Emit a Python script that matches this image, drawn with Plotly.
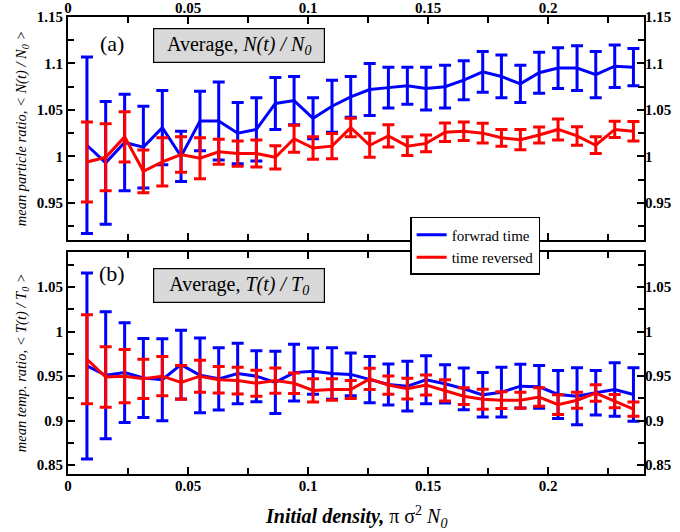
import plotly.graph_objects as go

# Initial density values (pi * sigma^2 * N0)
density = [0.0079, 0.0157, 0.0236, 0.0314, 0.0393, 0.0471, 0.0550, 0.0628, 0.0707, 0.0785,
           0.0864, 0.0942, 0.1021, 0.1100, 0.1178, 0.1257, 0.1335, 0.1414, 0.1492, 0.1571,
           0.1649, 0.1728, 0.1806, 0.1885, 0.1963, 0.2042, 0.2121, 0.2199, 0.2278, 0.2356]

# Panel (a): mean particle ratio N(t)/N0
n_forward = [1.012, 0.993, 1.015, 1.010, 1.031, 1.000, 1.038, 1.038, 1.025, 1.029,
             1.057, 1.060, 1.041, 1.054, 1.064, 1.072, 1.074, 1.076, 1.073, 1.075,
             1.082, 1.091, 1.086, 1.078, 1.090, 1.095, 1.095, 1.088, 1.097, 1.096]
n_forward_err = [0.095, 0.066, 0.052, 0.044, 0.040, 0.027, 0.032, 0.042, 0.033, 0.034,
                 0.028, 0.026, 0.022, 0.028, 0.022, 0.028, 0.022, 0.020, 0.023, 0.023,
                 0.021, 0.022, 0.023, 0.020, 0.022, 0.022, 0.024, 0.025, 0.023, 0.020]
n_reversed = [0.994, 0.999, 1.021, 0.984, 0.994, 1.002, 0.998, 1.005, 1.003, 1.003,
              0.999, 1.019, 1.009, 1.011, 1.031, 1.012, 1.022, 1.011, 1.014, 1.026,
              1.027, 1.025, 1.020, 1.018, 1.023, 1.029, 1.022, 1.012, 1.029, 1.027]
n_reversed_err = [0.043, 0.036, 0.027, 0.023, 0.026, 0.019, 0.022, 0.0135, 0.0135, 0.0145,
                  0.0125, 0.0145, 0.012, 0.0135, 0.010, 0.013, 0.012, 0.010, 0.009, 0.010,
                  0.010, 0.0107, 0.009, 0.0108, 0.0087, 0.0113, 0.010, 0.009, 0.0087, 0.0105]

# Panel (b): mean temperature ratio T(t)/T0
t_forward = [0.9615, 0.951, 0.954, 0.948, 0.946, 0.963, 0.951, 0.947, 0.953, 0.950,
             0.943, 0.954, 0.9556, 0.953, 0.952, 0.946, 0.9406, 0.9388, 0.946, 0.9414,
             0.9358, 0.929, 0.932, 0.9388, 0.938, 0.9294, 0.9275, 0.9313, 0.935, 0.9294]
t_forward_err = [0.1045, 0.0715, 0.056, 0.0445, 0.046, 0.0386, 0.042, 0.035, 0.034, 0.0287,
                 0.035, 0.032, 0.026, 0.029, 0.024, 0.026, 0.023, 0.028, 0.027, 0.0215,
                 0.0235, 0.025, 0.028, 0.0245, 0.024, 0.027, 0.032, 0.025, 0.030, 0.030]
t_reversed = [0.969, 0.949, 0.950, 0.947, 0.950, 0.943, 0.950, 0.946, 0.945, 0.942,
              0.945, 0.942, 0.934, 0.935, 0.935, 0.947, 0.940, 0.936, 0.940, 0.934,
              0.9275, 0.924, 0.923, 0.923, 0.9266, 0.918, 0.923, 0.931, 0.922, 0.913]
t_reversed_err = [0.050, 0.034, 0.030, 0.022, 0.022, 0.019, 0.018, 0.015, 0.015, 0.0146,
                  0.0143, 0.0116, 0.013, 0.012, 0.010, 0.012, 0.0103, 0.0118, 0.0113, 0.012,
                  0.0094, 0.0113, 0.0094, 0.009, 0.0103, 0.0112, 0.009, 0.0093, 0.0075, 0.008]

x_ticks = [0, 0.05, 0.1, 0.15, 0.2]
x_ticktext = ["0", "0.05", "0.1", "0.15", "0.2"]
ya_ticks = [0.95, 1.0, 1.05, 1.1, 1.15]
ya_ticktext = ["0.95", "1", "1.05", "1.1", "1.15"]
yb_ticks = [0.85, 0.9, 0.95, 1.0, 1.05]
yb_ticktext = ["0.85", "0.9", "0.95", "1", "1.05"]

BLUE = "#0000ff"
RED = "#ff0000"
SERIF = "Liberation Serif, Times New Roman, serif"

fig = go.Figure()


def add_series(y, err, color, name, xa, ya, show):
    fig.add_trace(go.Scatter(
        x=density, y=y, mode="lines", name=name, showlegend=show,
        line=dict(color=color, width=3),
        error_y=dict(type="data", array=err, color=color, thickness=3, width=6),
        xaxis=xa, yaxis=ya,
    ))


# forward series on the left-labelled axes, reversed series on the
# right-labelled overlay axes (ranges matched) so both sides get labels
add_series(n_forward, n_forward_err, BLUE, "forwrad time", "x", "y", True)
add_series(n_reversed, n_reversed_err, RED, "time reversed", "x", "y3", True)
add_series(t_forward, t_forward_err, BLUE, "forwrad time", "x2", "y2", False)
add_series(t_reversed, t_reversed_err, RED, "time reversed", "x2", "y4", False)

tick_font = dict(family=SERIF, size=15, color="black", weight="bold")
title_font = dict(family=SERIF, size=14.5, color="black")
minor_common = dict(ticks="inside", ticklen=6, tickwidth=1.5, tickcolor="black")

axis_common = dict(
    showline=True, linewidth=2, linecolor="black", mirror="ticks",
    ticks="inside", ticklen=7, tickwidth=1.5, tickcolor="black",
    showgrid=False, zeroline=False, tickfont=tick_font, automargin=False,
)
overlay_common = dict(
    ticks="", showline=False, showgrid=False, zeroline=False,
    tickfont=tick_font, automargin=False,
)

top_dom = [0.512, 1.0]
bot_dom = [0.0, 0.4865]

fig.update_layout(
    width=680, height=532,
    margin=dict(l=68, r=36, t=17, b=58, autoexpand=False),
    plot_bgcolor="white", paper_bgcolor="white",
    font=dict(family=SERIF, color="black"),
    xaxis=dict(domain=[0, 1], range=[0, 0.24], anchor="y", side="top",
               tickvals=x_ticks, ticktext=x_ticktext, ticklabelstandoff=-4,
               minor=dict(dtick=0.025, tick0=0, **minor_common), **axis_common),
    yaxis=dict(domain=top_dom, range=[0.91, 1.15], anchor="x",
               tickvals=ya_ticks, ticktext=ya_ticktext,
               title=dict(text="<i>mean particle ratio, &lt; N(t) / N<sub>0</sub> &gt;</i>",
                          font=title_font, standoff=7),
               minor=dict(dtick=0.025, tick0=0.9, **minor_common), **axis_common),
    yaxis3=dict(overlaying="y", matches="y", side="right", anchor="x",
                range=[0.91, 1.15], tickvals=ya_ticks, ticktext=ya_ticktext,
                **overlay_common),
    xaxis2=dict(domain=[0, 1], range=[0, 0.24], anchor="y2", side="bottom",
                tickvals=x_ticks, ticktext=x_ticktext, ticklabelstandoff=-3,
                minor=dict(dtick=0.025, tick0=0, **minor_common), **axis_common),
    yaxis2=dict(domain=bot_dom, range=[0.84, 1.09], anchor="x2",
                tickvals=yb_ticks, ticktext=yb_ticktext,
                title=dict(text="<i>mean temp. ratio, &lt; T(t) / T<sub>0</sub> &gt;</i>",
                           font=title_font, standoff=7),
                minor=dict(dtick=0.025, tick0=0.8, **minor_common), **axis_common),
    yaxis4=dict(overlaying="y2", matches="y2", side="right", anchor="x2",
                range=[0.84, 1.09], tickvals=yb_ticks, ticktext=yb_ticktext,
                **overlay_common),
    legend=dict(x=0.594, y=0.499, xanchor="left", yanchor="middle",
                bgcolor="white", bordercolor="black", borderwidth=1.5,
                font=dict(family=SERIF, size=15, color="black"),
                tracegroupgap=0, itemwidth=30),
    showlegend=True,
)

common_ann = dict(xref="paper", yref="paper", showarrow=False,
                  xanchor="center", yanchor="middle")
annotations = [
    dict(text="(a)", x=0.0764, y=0.943, font=dict(family=SERIF, size=22), **common_ann),
    dict(text="(b)", x=0.0764, y=0.4398, font=dict(family=SERIF, size=22), **common_ann),
    dict(text="Average, <i>N(t) / N<sub>0</sub></i>", x=0.2969, y=0.9376,
         font=dict(family=SERIF, size=20), bgcolor="#d9d9d9",
         bordercolor="black", borderwidth=1.2, borderpad=1, width=168, height=31,
         **common_ann),
    dict(text="Average, <i>T(t) / T<sub>0</sub></i>", x=0.2969, y=0.4125,
         font=dict(family=SERIF, size=20), bgcolor="#d9d9d9",
         bordercolor="black", borderwidth=1.2, borderpad=1, width=168, height=31,
         **common_ann),
    dict(text="<b><i>Initial density,</i></b> π σ<sup>2</sup> <i>N<sub>0</sub></i>",
         x=0.5, y=-0.094, font=dict(family=SERIF, size=20), **common_ann),
]
fig.update_layout(annotations=annotations)

fig.write_html("out.html")
